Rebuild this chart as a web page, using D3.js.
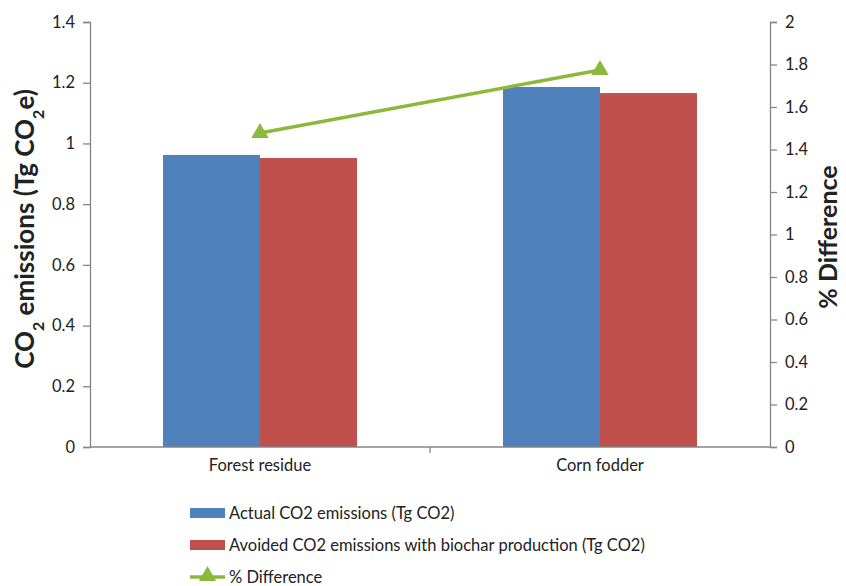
<!DOCTYPE html>
<html>
<head>
<meta charset="utf-8">
<script src="https://cdn.jsdelivr.net/npm/d3@7"></script>
<style>
  body { margin: 0; background: #fff; }
  text { font-family: Lato, "Open Sans", sans-serif; fill: #222; }
</style>
</head>
<body>
<div id="chart"></div>
<script>
// data
const categories = ["Forest residue", "Corn fodder"];
const actualCO2 = [0.962, 1.186];
const avoidedCO2 = [0.952, 1.166];
const pctDifference = [1.478, 1.774];
const leftTicks = [0, 0.2, 0.4, 0.6, 0.8, 1, 1.2, 1.4];
const rightTicks = [0, 0.2, 0.4, 0.6, 0.8, 1, 1.2, 1.4, 1.6, 1.8, 2];
const seriesNames = ["Actual CO2 emissions (Tg CO2)", "Avoided CO2 emissions with biochar production (Tg CO2)", "% Difference"];
const colors = ["#4f81bd", "#c0504d", "#8cb83c"];

const W = 846, H = 586;
const margin = { top: 22, right: 76, bottom: 139, left: 90 };
const width = W - margin.left - margin.right,
      height = H - margin.top - margin.bottom;

const svg = d3.select("#chart").append("svg")
  .attr("width", W).attr("height", H);
const g = svg.append("g").attr("transform", `translate(${margin.left},${margin.top})`);

// scales
const x0 = d3.scaleBand().domain(categories).range([0, width]);
const yL = d3.scaleLinear().domain([0, 1.4]).range([height, 0]);
const yR = d3.scaleLinear().domain([0, 2]).range([height, 0]);
const barW = 97;

// bars
const series = [actualCO2, avoidedCO2];
series.forEach((vals, s) => {
  g.selectAll(".bar" + s)
    .data(categories)
    .enter().append("rect")
    .attr("x", d => x0(d) + x0.bandwidth() / 2 - barW + s * barW)
    .attr("y", (d, i) => yL(vals[i]))
    .attr("width", barW)
    .attr("height", (d, i) => height - yL(vals[i]))
    .attr("fill", colors[s]);
});

// axes
const axisStyle = sel => {
  sel.selectAll("path, line").attr("stroke", "#868686").attr("stroke-width", 1.3);
  sel.selectAll("text").style("font-size", "16.5px");
  sel.select(".domain").attr("stroke", "#868686");
};

g.append("g")
  .call(d3.axisLeft(yL).tickValues(leftTicks).tickFormat(d3.format("~g")).tickSizeOuter(0).tickSize(7).tickPadding(8))
  .call(axisStyle);

g.append("g")
  .attr("transform", `translate(${width},0)`)
  .call(d3.axisRight(yR).tickValues(rightTicks).tickFormat(d3.format("~g")).tickSizeOuter(0).tickSize(7).tickPadding(8))
  .call(axisStyle);

const xAxis = g.append("g")
  .attr("transform", `translate(0,${height})`)
  .call(d3.axisBottom(x0).tickSize(0).tickPadding(12))
  .call(axisStyle);
xAxis.select(".domain").attr("d", `M0,0H${width}`);
// category divider tick
xAxis.append("line")
  .attr("x1", x0.bandwidth()).attr("x2", x0.bandwidth())
  .attr("y1", 0).attr("y2", 6)
  .attr("stroke", "#868686").attr("stroke-width", 1.3);

// % difference line
const cx = d => x0(d) + x0.bandwidth() / 2;
const line = d3.line()
  .x((d, i) => cx(categories[i]))
  .y(d => yR(d));
g.append("path")
  .datum(pctDifference)
  .attr("d", line)
  .attr("fill", "none")
  .attr("stroke", colors[2])
  .attr("stroke-width", 3.5);
const tri = d3.symbol().type(d3.symbolTriangle).size(130);
g.selectAll(".marker")
  .data(pctDifference)
  .enter().append("path")
  .attr("d", tri)
  .attr("transform", (d, i) => `translate(${cx(categories[i])},${yR(d)})`)
  .attr("fill", colors[2]);

// axis titles
const leftTitle = svg.append("text")
  .attr("transform", `translate(34,229) rotate(-90)`)
  .attr("text-anchor", "middle")
  .style("font-size", "26px").style("font-weight", "bold");
leftTitle.append("tspan").text("CO");
leftTitle.append("tspan").text("2").attr("baseline-shift", "sub").style("font-size", "16px");
leftTitle.append("tspan").text(" emissions (Tg CO");
leftTitle.append("tspan").text("2").attr("baseline-shift", "sub").style("font-size", "16px");
leftTitle.append("tspan").text("e)");

svg.append("text")
  .attr("transform", `translate(837,237) rotate(-90)`)
  .attr("text-anchor", "middle")
  .style("font-size", "25px").style("font-weight", "bold")
  .text("% Difference");

// legend
const legend = svg.append("g").attr("transform", "translate(190,513)");
seriesNames.forEach((name, i) => {
  const row = legend.append("g").attr("transform", `translate(0,${i * 32})`);
  if (i < 2) {
    row.append("rect").attr("x", 0).attr("y", -5).attr("width", 35).attr("height", 10).attr("fill", colors[i]);
  } else {
    row.append("line").attr("x1", 0).attr("x2", 35).attr("y1", 0).attr("y2", 0)
      .attr("stroke", colors[2]).attr("stroke-width", 3.5);
    row.append("path").attr("d", tri).attr("transform", "translate(17.5,-1)").attr("fill", colors[2]);
  }
  row.append("text").attr("x", 39).attr("y", 0).attr("dy", "0.35em")
    .style("font-size", "16.5px").text(name);
});
</script>
</body>
</html>
